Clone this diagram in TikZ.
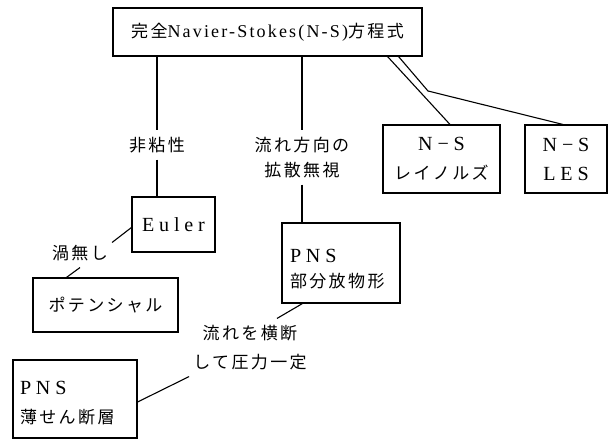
\documentclass[tikz,border=0pt]{standalone}
\usepackage{fontspec}
\newfontfamily\jpfont[LetterSpace=14]{Noto Sans CJK JP}
\newfontfamily\latfont[LetterSpace=24,Scale=1.18]{Liberation Serif}
\newfontfamily\latnarrow[LetterSpace=12,Scale=1.06]{Liberation Serif}
\newcommand\fsA{\fontsize{17pt}{25pt}\selectfont}
\newcommand\fsB{\fontsize{17pt}{29pt}\selectfont}
\begin{document}
\begin{tikzpicture}[x=1pt,y=-1pt,
  box/.style={draw,line width=1.1pt,inner sep=0pt,font=\fsA},
  lbl/.style={inner xsep=4pt,inner ysep=6.5pt,align=center,font=\fsA\jpfont},
  conn/.style={line width=1.1pt}]
\fill[white] (0,0) rectangle (616,441);
\useasboundingbox (0,0) rectangle (616,441);

% boxes
\node[box,minimum width=309pt,minimum height=48pt] (top) at (267.5,32)
  {{\jpfont 完全}{\latnarrow Navier-Stokes(N-S)}{\jpfont 方程式}};
\node[box,minimum width=83pt,minimum height=55pt] (euler) at (173.5,224.5) {\latfont Euler};
\node[box,minimum width=145pt,minimum height=54pt] (pot) at (105.5,305) {\jpfont ポテンシャル};
\node[box,minimum width=118pt,minimum height=80pt,align=left,text width=102pt,inner xsep=8pt] (pns1) at (341,263)
  {{\latfont\rule{0pt}{25pt}PNS}\\{\jpfont 部分放物形}};
\node[box,minimum width=124pt,minimum height=78pt,align=left,text width=110pt,inner xsep=7pt,font=\fsB] (pns2) at (75,399)
  {{\latfont\rule{0pt}{22pt}PNS}\\{\jpfont 薄せん断層}};
\node[box,minimum width=117pt,minimum height=68pt,align=center,font=\fsB] (rey) at (441.5,159)
  {{\latfont N−S}\\{\jpfont レイノルズ}};
\node[box,minimum width=82pt,minimum height=68pt,align=center,font=\fsB] (les) at (566,159)
  {{\latfont N−S}\\{\latfont LES}};

% labels
\node[lbl] (l1) at (157,145) {非粘性};
\node[lbl] (l2) at (302,157.5) {流れ方向の\\拡散無視};
\node[lbl] (l3) at (80,253) {渦無し};
\node[lbl,font=\fsB\jpfont] (l4) at (250,347.5) {流れを横断\\して圧力一定};

\coordinate (bend) at (428,91);

% connectors
\draw[conn] (l1 |- top.south) -- (l1.north);
\draw[conn] (l1.south) -- (l1 |- euler.north);
\draw[conn] (l2 |- top.south) -- (l2.north);
\draw[conn] (l2.south) -- (l2 |- pns1.north);
\draw[conn] ([xshift=-35pt]top.south east) -- ([xshift=8.5pt]rey.north);
\draw[conn] ([xshift=-24pt]top.south east) -- (bend) -- ([xshift=-3pt]les.north);
\draw[conn] ([yshift=-3pt]euler.west) -- ([yshift=-4pt]l3.north east);
\draw[conn] (l3.south) -- ([xshift=34pt]pot.north west);
\draw[conn] ([xshift=21pt]pns1.south west) -- ([xshift=27pt]l4.north);
\draw[conn] (l4.south west) -- ([yshift=-3pt]pns2.east);
\end{tikzpicture}
\end{document}
